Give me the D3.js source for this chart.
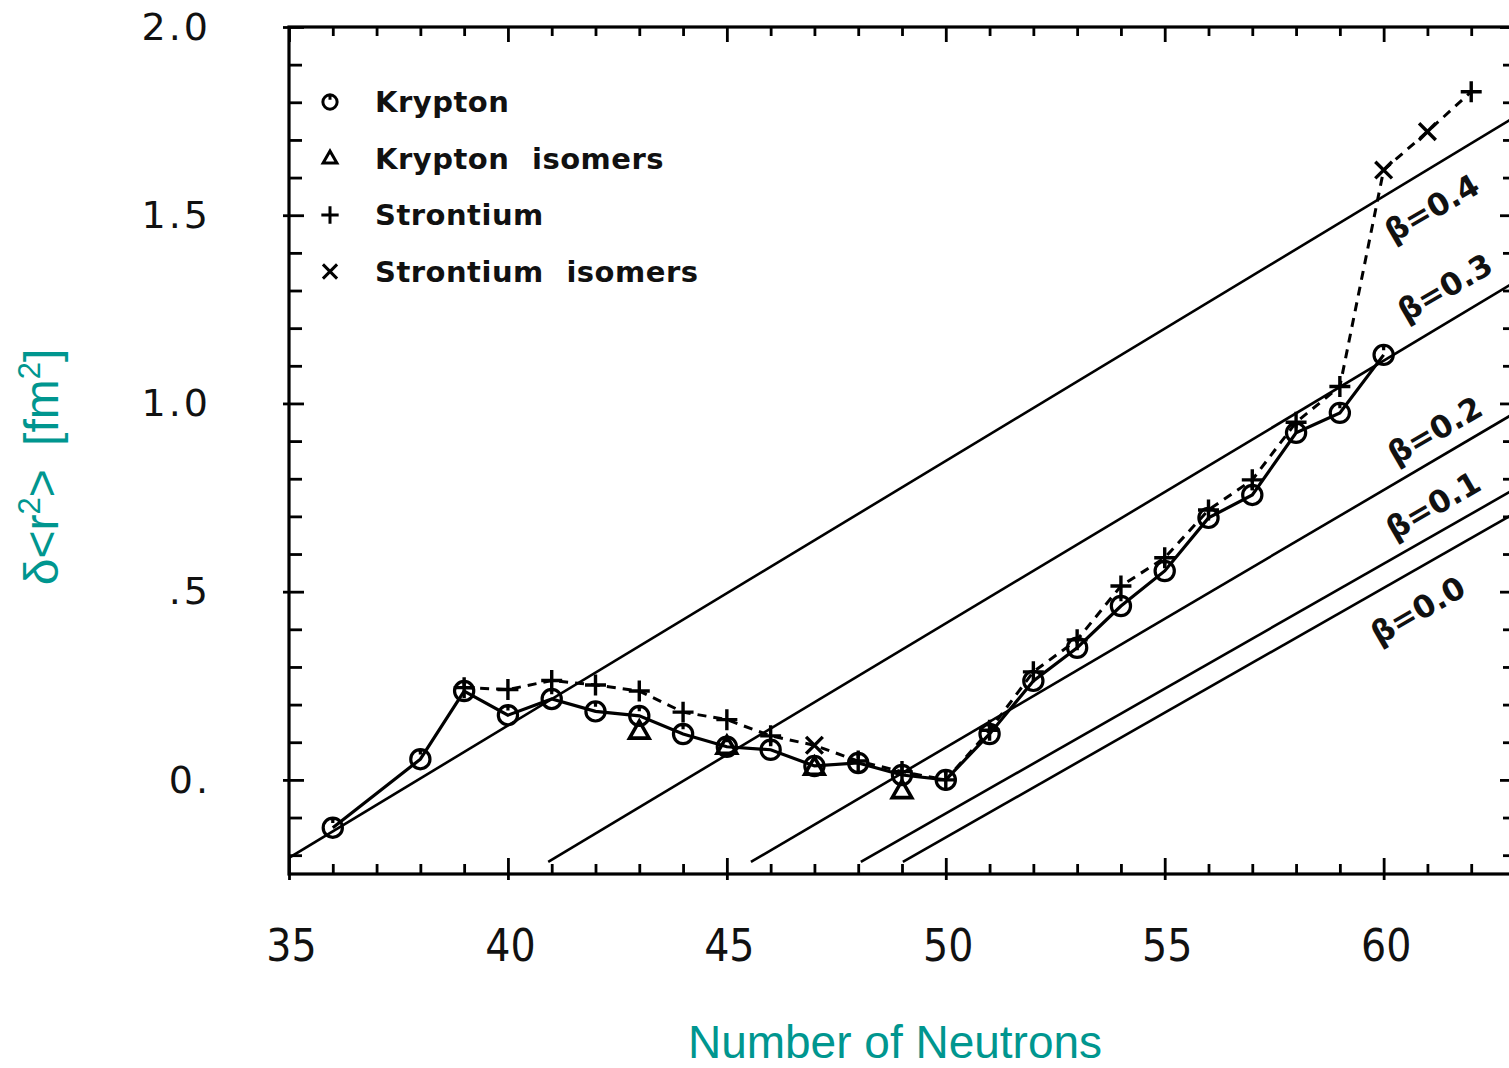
<!DOCTYPE html>
<html>
<head>
<meta charset="utf-8">
<script src="https://cdn.jsdelivr.net/npm/d3@7"></script>
<style>
  html, body { margin: 0; padding: 0; background: #fff; }
  svg { display: block; }
</style>
</head>
<body>
<svg id="chart" width="1509" height="1068"></svg>
<script>
// ---- data: change in mean-square charge radius vs neutron number ----
const kryptonN   = [36, 38, 39, 40, 41, 42, 43, 44, 45, 46, 47, 48, 49, 50, 51, 52, 53, 54, 55, 56, 57, 58, 59, 60];
const kryptonVal = [-0.127, 0.055, 0.236, 0.172, 0.215, 0.182, 0.170, 0.122, 0.088, 0.080, 0.037, 0.045, 0.013, 0.000,
                    0.122, 0.263, 0.351, 0.462, 0.555, 0.696, 0.757, 0.922, 0.975, 1.129];

const krIsomerN   = [43, 45, 47, 49];
const krIsomerVal = [0.128, 0.088, 0.032, -0.030];

const strontiumN   = [39, 40, 41, 42, 43, 44, 45, 46, 48, 49, 50, 51, 52, 53, 54, 55, 56, 57, 58, 59, 62];
const strontiumVal = [0.245, 0.240, 0.264, 0.252, 0.236, 0.180, 0.160, 0.117, 0.050, 0.022, 0.000, 0.132,
                      0.287, 0.372, 0.515, 0.590, 0.717, 0.797, 0.950, 1.045, 1.828];

const srIsomerN   = [47, 60, 61];
const srIsomerVal = [0.092, 1.620, 1.722];

// iso-deformation reference lines: start and end points (N, value)
const betaNames = ["β=0.4", "β=0.3", "β=0.2", "β=0.1", "β=0.0"];
const betaStartN   = [35.0, 40.92, 45.55, 48.06, 49.02];
const betaStartVal = [-0.207, -0.218, -0.218, -0.218, -0.218];
const betaEndN     = [63, 63, 63, 63, 63];
const betaEndVal   = [1.761, 1.323, 0.975, 0.773, 0.709];

// axis ticks
const xMajorTicks = [35, 40, 45, 50, 55, 60];
const xTickLabels = ["35", "40", "45", "50", "55", "60"];
const yMajorTicks = [0, 0.5, 1.0, 1.5, 2.0];
const yTickLabels = ["0.", ".5", "1.0", "1.5", "2.0"];

const legendNames = ["Krypton", "Krypton isomers", "Strontium", "Strontium isomers"];

// ---- layout ----
const W = 1509, H = 1068;
const frame = { left: 289, right: 1515, top: 27, bottom: 874 };
const teal = "#00968f";

const x = d3.scaleLinear().domain([35, 63]).range([frame.left, frame.right]);
const y = d3.scaleLinear().domain([-0.25, 2.0]).range([frame.bottom, frame.top]);

const svg = d3.select("#chart");
svg.append("rect").attr("width", W).attr("height", H).attr("fill", "#fff");

svg.append("defs").append("clipPath").attr("id", "plotClip")
  .append("rect")
  .attr("x", frame.left).attr("y", frame.top)
  .attr("width", frame.right - frame.left).attr("height", frame.bottom - frame.top);

// ---- custom stroked symbols for d3.symbol ----
const symCircleStem = {
  draw(ctx, size) {
    const r = Math.sqrt(size / Math.PI);
    ctx.moveTo(r, 0);
    ctx.arc(0, 0, r, 0, 2 * Math.PI);
    ctx.moveTo(0, -r - 1);
    ctx.lineTo(0, -r + 5);
  }
};
const symTriangle = {
  draw(ctx, size) {
    const s = Math.sqrt(size);
    const h = s * 0.87;
    ctx.moveTo(0, -h * 0.62);
    ctx.lineTo(s / 2, h * 0.38);
    ctx.lineTo(-s / 2, h * 0.38);
    ctx.closePath();
  }
};
const symPlus = {
  draw(ctx, size) {
    const r = Math.sqrt(size) / 2;
    ctx.moveTo(-r, 0); ctx.lineTo(r, 0);
    ctx.moveTo(0, -r); ctx.lineTo(0, r);
  }
};
const symTimes = {
  draw(ctx, size) {
    const r = Math.sqrt(size) / 2;
    ctx.moveTo(-r, -r); ctx.lineTo(r, r);
    ctx.moveTo(-r, r); ctx.lineTo(r, -r);
  }
};

// ---- axes (ticks on all four sides, frame drawn separately) ----
const allX = d3.range(35, 64);
const minorX = allX.filter(v => !xMajorTicks.includes(v));
const allY = d3.range(-2, 21).map(v => +(v / 10).toFixed(1));
const minorY = allY.filter(v => !yMajorTicks.includes(v));

function tickAxis(axisFn, scale, values, inner, translate) {
  const g = svg.append("g")
    .attr("transform", translate)
    .call(axisFn(scale).tickValues(values).tickSizeInner(inner).tickSizeOuter(0).tickFormat(""));
  g.select(".domain").remove();
  g.selectAll(".tick line").attr("stroke", "#000").attr("stroke-width", 2.8);
  return g;
}

// bottom
tickAxis(d3.axisBottom, x, minorX, -10, `translate(0,${frame.bottom})`);
tickAxis(d3.axisBottom, x, xMajorTicks, -16, `translate(0,${frame.bottom})`);
tickAxis(d3.axisBottom, x, xMajorTicks, 6, `translate(0,${frame.bottom})`);
// top
tickAxis(d3.axisTop, x, minorX, -9, `translate(0,${frame.top})`);
tickAxis(d3.axisTop, x, xMajorTicks, -15, `translate(0,${frame.top})`);
// left
tickAxis(d3.axisLeft, y, minorY, -13, `translate(${frame.left},0)`);
tickAxis(d3.axisLeft, y, yMajorTicks, -15, `translate(${frame.left},0)`);
tickAxis(d3.axisLeft, y, yMajorTicks, 6, `translate(${frame.left},0)`);
// right
tickAxis(d3.axisRight, y, minorY, -12, `translate(${frame.right},0)`);
tickAxis(d3.axisRight, y, yMajorTicks, -15, `translate(${frame.right},0)`);

// tick labels
const xLab = svg.append("g")
  .attr("transform", `translate(2,${frame.bottom})`)
  .call(d3.axisBottom(x).tickValues(xMajorTicks).tickSize(0).tickPadding(56)
        .tickFormat((d, i) => xTickLabels[i]));
xLab.select(".domain").remove();
xLab.selectAll("text")
  .attr("font-family", "'DejaVu Sans Condensed', 'DejaVu Sans', sans-serif")
  .style("font-stretch", "condensed")
  .attr("font-size", 44).attr("fill", "#111");

const yLab = svg.append("g")
  .attr("transform", `translate(${frame.left},0)`)
  .call(d3.axisLeft(y).tickValues(yMajorTicks).tickSize(0).tickPadding(78)
        .tickFormat((d, i) => yTickLabels[i]));
yLab.select(".domain").remove();
yLab.selectAll("text")
  .attr("font-family", "'DejaVu Sans', sans-serif")
  .attr("font-size", 38).attr("letter-spacing", 3).attr("fill", "#111");

// frame
svg.append("rect")
  .attr("x", frame.left).attr("y", frame.top)
  .attr("width", frame.right - frame.left).attr("height", frame.bottom - frame.top)
  .attr("fill", "none").attr("stroke", "#000").attr("stroke-width", 3.2);

// ---- plot contents ----
const plot = svg.append("g").attr("clip-path", "url(#plotClip)");

// iso-deformation lines
betaNames.forEach((name, i) => {
  plot.append("line")
    .attr("x1", x(betaStartN[i])).attr("y1", y(betaStartVal[i]))
    .attr("x2", x(betaEndN[i])).attr("y2", y(betaEndVal[i]))
    .attr("stroke", "#000").attr("stroke-width", 2.6);
});

// label anchors for the β lines (data units) and text rotation
const betaLabelN   = [61.10, 61.40, 61.17, 61.13, 60.78];
const betaLabelVal = [1.519, 1.308, 0.929, 0.730, 0.451];
betaNames.forEach((name, i) => {
  svg.append("text")
    .attr("transform", `translate(${x(betaLabelN[i])},${y(betaLabelVal[i])}) rotate(-30)`)
    .attr("text-anchor", "middle").attr("dominant-baseline", "central")
    .attr("font-family", "'DejaVu Sans', sans-serif").attr("font-weight", "bold")
    .attr("font-size", 31).attr("fill", "#111")
    .text(name);
});

const line = d3.line().x(d => x(d.n)).y(d => y(d.v));
const kr = kryptonN.map((n, i) => ({ n, v: kryptonVal[i] }));
const krIso = krIsomerN.map((n, i) => ({ n, v: krIsomerVal[i] }));
const sr = strontiumN.map((n, i) => ({ n, v: strontiumVal[i] }));
const srIso = srIsomerN.map((n, i) => ({ n, v: srIsomerVal[i] }));
const srAll = sr.concat(srIso).sort((a, b) => a.n - b.n);

// strontium: dashed line through ground states and isomers
plot.append("path").datum(srAll)
  .attr("d", line).attr("fill", "none")
  .attr("stroke", "#000").attr("stroke-width", 3).attr("stroke-dasharray", "9,7");

// krypton: solid line
plot.append("path").datum(kr)
  .attr("d", line).attr("fill", "none")
  .attr("stroke", "#000").attr("stroke-width", 3.2);

function drawMarkers(data, type, size, width) {
  plot.selectAll(null).data(data).enter().append("path")
    .attr("transform", d => `translate(${x(d.n)},${y(d.v)})`)
    .attr("d", d3.symbol().type(type).size(size))
    .attr("fill", "none").attr("stroke", "#000").attr("stroke-width", width);
}
drawMarkers(kr, symCircleStem, 290, 3.2);
drawMarkers(krIso, symTriangle, 380, 3.6);
drawMarkers(sr, symPlus, 440, 3.4);
drawMarkers(srIso, symTimes, 280, 3.4);

// ---- legend ----
const legend = svg.append("g");
const legendTypes = [symCircleStem, symTriangle, symPlus, symTimes];
const legendSizes = [160, 190, 300, 200];
legendNames.forEach((name, i) => {
  const cy = 102 + i * 56.5;
  legend.append("path")
    .attr("transform", `translate(330,${cy})`)
    .attr("d", d3.symbol().type(legendTypes[i]).size(legendSizes[i]))
    .attr("fill", "none").attr("stroke", "#000").attr("stroke-width", 3);
  legend.append("text")
    .attr("x", 375).attr("y", cy).attr("dominant-baseline", "central")
    .attr("font-family", "'DejaVu Sans', sans-serif").attr("font-weight", "bold")
    .attr("font-size", 29).attr("letter-spacing", 0.5).attr("word-spacing", 12)
    .attr("fill", "#111")
    .text(name);
});

// ---- axis titles ----
svg.append("text")
  .attr("x", 895).attr("y", 1058).attr("text-anchor", "middle")
  .attr("font-family", "'Liberation Sans', Arial, sans-serif")
  .attr("font-size", 46).attr("fill", teal)
  .text("Number of Neutrons");

const yt = svg.append("text")
  .attr("transform", "translate(58,467) rotate(-90)")
  .attr("text-anchor", "middle")
  .attr("font-family", "'Liberation Sans', Arial, sans-serif")
  .attr("font-size", 48).attr("fill", teal).attr("word-spacing", 10);
yt.append("tspan").text("δ<r");
yt.append("tspan").attr("font-size", 31).attr("dy", -18).text("2");
yt.append("tspan").attr("dy", 18).text("> [fm");
yt.append("tspan").attr("font-size", 31).attr("dy", -18).text("2");
yt.append("tspan").attr("dy", 18).text("]");
</script>
</body>
</html>
